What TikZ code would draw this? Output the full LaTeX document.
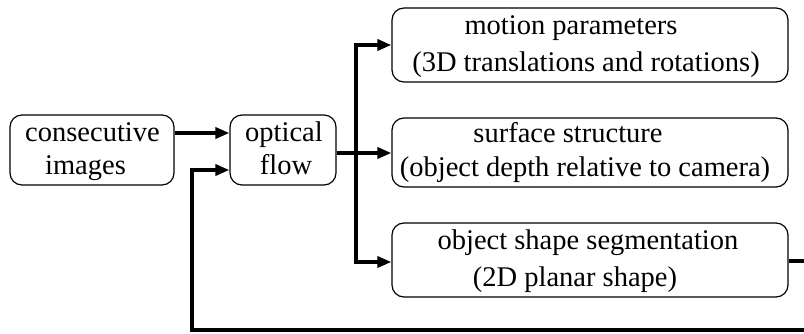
\documentclass[tikz,border=0pt]{standalone}
\usepackage{fontspec}
\setmainfont{Liberation Serif}
\usetikzlibrary{arrows.meta}
\begin{document}
\begin{tikzpicture}[x=1pt,y=-1pt,
  box/.style={draw,line width=1.2pt,rounded corners=12pt,inner sep=0pt},
  txt/.style={anchor=base,inner sep=0pt,font=\fontsize{28.5}{31}\selectfont},
  conn/.style={line width=4pt},
  arr/.style={conn,-{Triangle[length=14pt,width=11pt]}},
  arrb/.style={conn,{Triangle[length=14pt,width=11pt]}-{Triangle[length=14pt,width=11pt]}}]
\useasboundingbox (0,0) rectangle (804,334);
% boxes
\node[box,minimum width=164pt,minimum height=70pt] (ci) at (92,150) {};
\node[box,minimum width=106pt,minimum height=70pt] (of) at (283,150) {};
\node[box,minimum width=396pt,minimum height=74pt] (mp) at (590,45) {};
\node[box,minimum width=396pt,minimum height=69pt] (ss) at (590,152.5) {};
\node[box,minimum width=396pt,minimum height=74pt] (os) at (590,260) {};
% texts
\node[txt] (ci1) at (92.5,142) {consecutive};
\node[txt] (ci2) at (85.5,175) {images};
\node[txt] (of1) at (284,141.5) {optical};
\node[txt] (of2) at (286,174.5) {flow};
\node[txt] (mp1) at (571,35) {motion parameters};
\node[txt] (mp2) at (586,72) {(3D translations and rotations)};
\node[txt] (ss1) at (568,143) {surface structure};
\node[txt] (ss2) at (585,177) {(object depth relative to camera)};
\node[txt] (os1) at (588,250) {object shape segmentation};
\node[txt] (os2) at (575,287) {(2D planar shape)};
% connectors
\coordinate (a1) at (0,133);
\draw[arr] (ci.east |- a1) -- (of.west |- a1);
\draw[arr] (of.east |- 0,153) -- (ss.west |- 0,153);
\coordinate (tt) at (356,45);
\coordinate (tb) at (356,262);
\draw[arrb] (mp.west |- tt) -- (tt) -- (tb) -- (os.west |- tb);
\coordinate (r1) at (806,261);
\coordinate (r2) at (806,330);
\coordinate (l1) at (192,330);
\coordinate (l2) at (192,170);
\draw[arr] (os.east |- r1) -- (r1) -- (r2) -- (l1) -- (l2) -- (of.west |- l2);
\end{tikzpicture}
\end{document}
